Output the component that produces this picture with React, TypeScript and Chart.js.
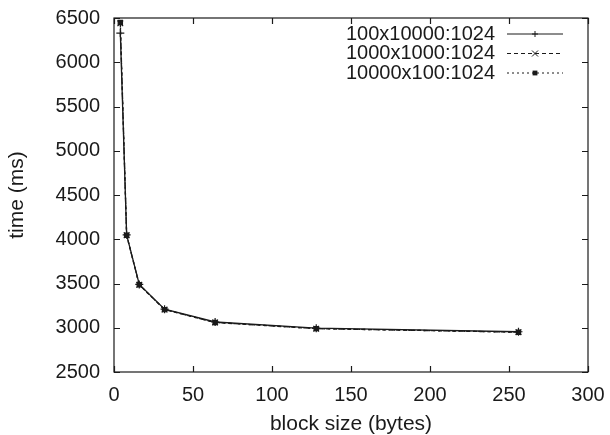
import React, { useEffect, useRef } from "react";
import { Chart, registerables } from "chart.js";

Chart.register(...registerables);

const xValues = [4, 8, 16, 32, 64, 128, 256];
const series1 = [6330, 4050, 3490, 3210, 3065, 2995, 2955];
const series2 = [6440, 4045, 3485, 3205, 3060, 2990, 2950];
const series3 = [6450, 4045, 3485, 3205, 3060, 2990, 2950];
const seriesLabels = ["100x10000:1024", "1000x1000:1024", "10000x100:1024"];
const xTitle = "block size (bytes)";
const yTitle = "time (ms)";

const FONT = "'Liberation Sans', Arial, Helvetica, sans-serif";
const INK = "#1a1a1a";

const styles = [
  { dash: [] as number[], marker: "cross" },
  { dash: [4, 3], marker: "crossRot" },
  { dash: [2, 3], marker: "rect" },
];

function drawMarker(ctx: CanvasRenderingContext2D, kind: string, x: number, y: number, r: number) {
  ctx.save();
  ctx.setLineDash([]);
  ctx.beginPath();
  if (kind === "cross") {
    ctx.moveTo(x - r, y); ctx.lineTo(x + r, y);
    ctx.moveTo(x, y - r); ctx.lineTo(x, y + r);
    ctx.stroke();
  } else if (kind === "crossRot") {
    ctx.moveTo(x - r, y - r); ctx.lineTo(x + r, y + r);
    ctx.moveTo(x - r, y + r); ctx.lineTo(x + r, y - r);
    ctx.stroke();
  } else {
    ctx.fillRect(x - r * 0.8, y - r * 0.8, r * 1.6, r * 1.6);
  }
  ctx.restore();
}

const framePlugin = {
  id: "frame",
  afterDatasetsDraw(chart: any) {
    const { ctx, chartArea: a, scales } = chart;
    ctx.save();
    ctx.strokeStyle = INK;
    ctx.lineWidth = 1.2;
    ctx.setLineDash([]);
    ctx.strokeRect(a.left, a.top, a.right - a.left, a.bottom - a.top);
    const L = 6;
    ctx.beginPath();
    scales.x.ticks.forEach((t: any) => {
      const px = Math.round(scales.x.getPixelForValue(t.value)) + 0.5;
      ctx.moveTo(px, a.bottom); ctx.lineTo(px, a.bottom - L);
      ctx.moveTo(px, a.top); ctx.lineTo(px, a.top + L);
    });
    scales.y.ticks.forEach((t: any) => {
      const py = Math.round(scales.y.getPixelForValue(t.value)) + 0.5;
      ctx.moveTo(a.left, py); ctx.lineTo(a.left + L, py);
      ctx.moveTo(a.right, py); ctx.lineTo(a.right - L, py);
    });
    ctx.stroke();

    // legend
    ctx.font = `20px ${FONT}`;
    ctx.textAlign = "right";
    ctx.textBaseline = "middle";
    ctx.fillStyle = INK;
    const textRight = a.right - 93;
    const lineX0 = a.right - 81;
    const lineX1 = a.right - 25;
    seriesLabels.forEach((lab, i) => {
      const y = a.top + 16 + i * 19.5;
      ctx.fillText(lab, textRight, y);
      ctx.lineWidth = 1;
      ctx.setLineDash(styles[i].dash);
      ctx.beginPath();
      ctx.moveTo(lineX0, y);
      ctx.lineTo(lineX1, y);
      ctx.stroke();
      drawMarker(ctx, styles[i].marker, (lineX0 + lineX1) / 2, y, 3);
    });
    ctx.restore();
  },
};

export default function App() {
  const ref = useRef<HTMLCanvasElement>(null);
  useEffect(() => {
    document.body.style.margin = "0";
    const seriesData = [series1, series2, series3];
    const chart = new Chart(ref.current!, {
      type: "line",
      data: {
        datasets: seriesData.map((s, i) => ({
          label: seriesLabels[i],
          data: xValues.map((x, j) => ({ x, y: s[j] })),
          borderColor: INK,
          backgroundColor: INK,
          borderWidth: 1.3,
          borderDash: styles[i].dash,
          pointStyle: styles[i].marker as any,
          pointRadius: i === 2 ? 3 : 4,
          pointBorderWidth: 1.2,
          pointBorderColor: INK,
          pointBackgroundColor: INK,
          tension: 0,
          fill: false,
        })),
      },
      options: {
        animation: false,
        responsive: false,
        maintainAspectRatio: false,
        layout: { padding: { left: 0, right: 22, top: 17, bottom: 0 } },
        plugins: { legend: { display: false }, tooltip: { enabled: false } },
        scales: {
          x: {
            type: "linear",
            min: 0,
            max: 300,
            ticks: { stepSize: 50, color: INK, font: { family: FONT, size: 20 }, padding: 3, maxRotation: 0, callback: (v: any) => String(v) },
            grid: { display: false },
            border: { display: false },
            title: { display: true, text: xTitle, color: INK, font: { family: FONT, size: 21 }, padding: { top: 0, bottom: -2 } },
            afterFit: (s: any) => { s.height = 63; },
          },
          y: {
            type: "linear",
            min: 2500,
            max: 6500,
            ticks: { stepSize: 500, color: INK, font: { family: FONT, size: 20 }, padding: 6, callback: (v: any) => String(v) },
            grid: { display: false },
            border: { display: false },
            title: { display: true, text: yTitle, color: INK, font: { family: FONT, size: 21 }, padding: { top: 5, bottom: 0 } },
            afterFit: (s: any) => { s.width = 114; },
          },
        },
      },
      plugins: [framePlugin],
    });
    return () => chart.destroy();
  }, []);
  return (
    <div style={{ position: "fixed", left: 0, top: 0, width: 610, height: 435, background: "#fff" }}>
      <canvas ref={ref} width={610} height={435} style={{ width: 610, height: 435 }} />
    </div>
  );
}
